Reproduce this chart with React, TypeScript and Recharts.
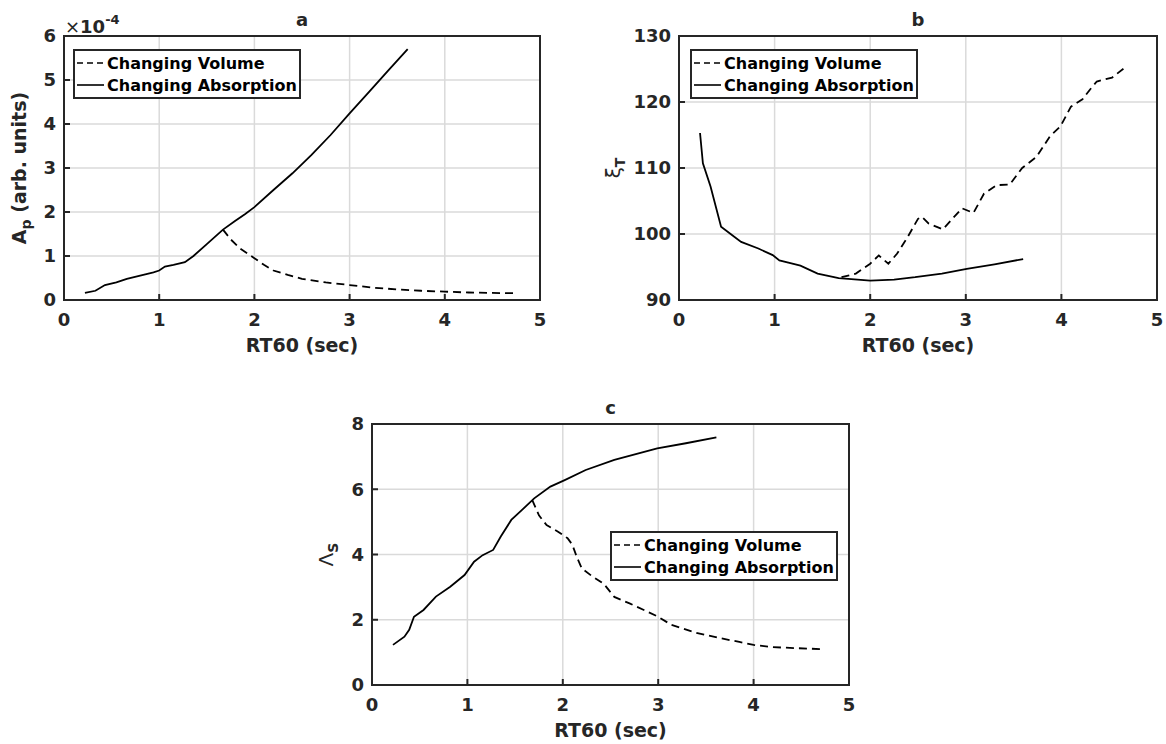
import React from "react";
import {
  LineChart,
  Line,
  XAxis,
  YAxis,
  CartesianGrid,
  Legend,
} from "recharts";

const FONT = "'DejaVu Sans', sans-serif";
const INK = "#262626";

// RT60 axis, shared by the three panels
const rtTicks = [0, 1, 2, 3, 4, 5];

// panel a: A_p, in units of 1e-4
const apTicks = [0, 1, 2, 3, 4, 5, 6];
const apAbsRt = [0.22, 0.33, 0.43, 0.55, 0.66, 0.8, 0.94, 1.0, 1.06, 1.15, 1.27, 1.36, 1.5, 1.67, 1.8, 1.9, 2.0, 2.2, 2.4, 2.6, 2.8, 3.0, 3.2, 3.4, 3.61];
const apAbsVal = [0.16, 0.21, 0.34, 0.4, 0.48, 0.555, 0.63, 0.67, 0.76, 0.8, 0.86, 1.0, 1.27, 1.6, 1.8, 1.95, 2.11, 2.5, 2.88, 3.3, 3.75, 4.24, 4.72, 5.2, 5.7];
const apVolRt = [1.67, 1.75, 1.85, 2.0, 2.1, 2.2, 2.35, 2.5, 2.75, 3.0, 3.25, 3.5, 3.75, 4.0, 4.25, 4.5, 4.75];
const apVolVal = [1.6, 1.38, 1.17, 0.95, 0.8, 0.67, 0.57, 0.48, 0.4, 0.34, 0.28, 0.24, 0.21, 0.19, 0.17, 0.16, 0.155];

// panel b: xi_T
const xiTicks = [90, 100, 110, 120, 130];
const xiAbsRt = [0.22, 0.25, 0.33, 0.44, 0.54, 0.65, 0.83, 0.98, 1.05, 1.27, 1.45, 1.67, 2.0, 2.25, 2.47, 2.75, 3.01, 3.3, 3.6];
const xiAbsVal = [115.3, 110.7, 107.2, 101.1, 100.0, 98.8, 97.8, 96.8, 96.0, 95.2, 94.0, 93.3, 92.95, 93.1, 93.45, 94.0, 94.7, 95.4, 96.2];
const xiVolRt = [1.7, 1.85, 2.0, 2.09, 2.19, 2.28, 2.39, 2.5, 2.54, 2.61, 2.76, 2.86, 2.96, 3.08, 3.19, 3.32, 3.46, 3.59, 3.74, 3.88, 3.99, 4.1, 4.22, 4.3, 4.37, 4.53, 4.68];
const xiVolVal = [93.45, 94.0, 95.5, 96.75, 95.5, 97.0, 99.5, 102.3, 102.6, 101.6, 100.7, 102.3, 103.9, 103.2, 106.1, 107.4, 107.5, 110.0, 111.7, 114.8, 116.3, 119.3, 120.4, 121.9, 123.1, 123.7, 125.4];

// panel c: Lambda_S
const lamTicks = [0, 2, 4, 6, 8];
const lamAbsRt = [0.22, 0.34, 0.39, 0.44, 0.54, 0.67, 0.82, 0.97, 1.07, 1.16, 1.27, 1.35, 1.46, 1.57, 1.7, 1.87, 2.02, 2.24, 2.54, 2.99, 3.29, 3.61];
const lamAbsVal = [1.23, 1.48, 1.69, 2.09, 2.3, 2.71, 3.01, 3.37, 3.78, 3.98, 4.14, 4.55, 5.06, 5.36, 5.72, 6.08, 6.28, 6.59, 6.9, 7.25, 7.41, 7.59];
const lamVolRt = [1.68, 1.75, 1.83, 1.95, 2.05, 2.1, 2.15, 2.2, 2.3, 2.43, 2.54, 2.7, 2.85, 3.0, 3.14, 3.4, 3.66, 3.85, 4.0, 4.2, 4.45, 4.71];
const lamVolVal = [5.67, 5.2, 4.9, 4.7, 4.5, 4.3, 3.9, 3.57, 3.35, 3.1, 2.7, 2.5, 2.3, 2.09, 1.84, 1.6, 1.43, 1.32, 1.23, 1.16, 1.13, 1.1];

const legendItems = [
  { name: "Changing Volume", dash: "6 4" },
  { name: "Changing Absorption", dash: undefined },
];

type Pt = { x: number; y: number };
type Box = { x: number; y: number; width: number; height: number };

const zip = (xs: number[], ys: number[]): Pt[] => xs.map((x, i) => ({ x, y: ys[i] }));

const tickStyle = { fontSize: 18, fontWeight: 700, fill: INK, fontFamily: FONT };
// mirrored axes keep their tick marks but show no numbers
const hiddenTick = { fontSize: 1, fill: "transparent" };
const frame = { stroke: INK, strokeWidth: 2, strokeLinecap: "square" as const };
const tickLine = { stroke: INK, strokeWidth: 2 };

const LegendBox = () => (
  <div
    style={{
      width: 228,
      boxSizing: "border-box",
      border: `2px solid ${INK}`,
      background: "#fff",
      padding: "1px 0 1px 1px",
      fontFamily: FONT,
      fontWeight: 700,
      fontSize: 16,
      color: "#000",
    }}
  >
    {legendItems.map((it) => (
      <div key={it.name} style={{ display: "flex", alignItems: "center", height: 22 }}>
        <svg width={29} height={10}>
          <line x1={1} y1={5} x2={28} y2={5} stroke="#000" strokeWidth={1.6} strokeDasharray={it.dash} />
        </svg>
        <span style={{ marginLeft: 2, whiteSpace: "nowrap" }}>{it.name}</span>
      </div>
    ))}
  </div>
);

const rotated = (cx: number, cy: number, children: React.ReactNode) => (
  <text
    x={cx}
    y={cy}
    transform={`rotate(-90 ${cx} ${cy})`}
    textAnchor="middle"
    fill={INK}
    fontFamily={FONT}
    fontSize={19}
  >
    {children}
  </text>
);

const apLabel = (vb: Box) => (
  <g>
    {rotated(vb.x + 26, vb.y + vb.height / 2, (
      <>
        <tspan fontWeight={700}>A</tspan>
        <tspan fontWeight={700} fontSize={14} dy={5}>p</tspan>
        <tspan fontWeight={700} dy={-5}> (arb. units)</tspan>
      </>
    ))}
    <text x={vb.x + 65} y={vb.y - 3} fill={INK} fontFamily={FONT} fontSize={18} fontWeight={700}>
      <tspan fontWeight={400}>×</tspan>10
      <tspan dy={-9} fontSize={13}>-4</tspan>
    </text>
  </g>
);

const xiLabel = (vb: Box) =>
  rotated(vb.x + 30, vb.y + vb.height / 2, (
    <>
      <tspan fontSize={20}>ξ</tspan>
      <tspan fontWeight={700} fontSize={14} dy={5}>T</tspan>
    </>
  ));

const lamLabel = (vb: Box) =>
  rotated(vb.x + 33, vb.y + vb.height / 2, (
    <>
      <tspan fontSize={20}>Λ</tspan>
      <tspan fontWeight={700} fontSize={14} dy={5}>S</tspan>
    </>
  ));

type PanelProps = {
  left: number;
  top: number;
  width: number;
  height: number;
  margin: { top: number; right: number; bottom: number; left: number };
  yWidth: number;
  xHeight: number;
  yTicks: number[];
  absorption: Pt[];
  volume: Pt[];
  title: string;
  yLabel: (vb: Box) => React.ReactNode;
  legendAt: { left: number; top: number };
};

const Panel = (p: PanelProps) => {
  const yDomain = [p.yTicks[0], p.yTicks[p.yTicks.length - 1]];
  return (
    <div style={{ position: "absolute", left: p.left, top: p.top }}>
      <LineChart width={p.width} height={p.height} margin={p.margin} style={{ fontFamily: FONT }}>
        <CartesianGrid stroke="#dadada" strokeWidth={1.5} />
        <XAxis
          type="number"
          dataKey="x"
          domain={[0, 5]}
          ticks={rtTicks}
          interval={0}
          height={p.xHeight}
          tick={tickStyle}
          tickSize={-6}
          tickMargin={19}
          axisLine={frame}
          tickLine={tickLine}
          label={(lp: any) => (
            <text
              x={lp.viewBox.x + lp.viewBox.width / 2}
              y={lp.viewBox.y + 52}
              textAnchor="middle"
              fill={INK}
              fontFamily={FONT}
              fontSize={19}
              fontWeight={700}
            >
              RT60 (sec)
            </text>
          )}
        />
        <XAxis
          xAxisId="top"
          orientation="top"
          type="number"
          dataKey="x"
          domain={[0, 5]}
          ticks={rtTicks}
          interval={0}
          height={1}
          tick={hiddenTick}
          tickSize={-6}
          axisLine={frame}
          tickLine={tickLine}
          label={(lp: any) => (
            <text
              x={lp.viewBox.x + lp.viewBox.width / 2}
              y={lp.viewBox.y - 9}
              textAnchor="middle"
              fill={INK}
              fontFamily={FONT}
              fontSize={18}
              fontWeight={700}
            >
              {p.title}
            </text>
          )}
        />
        <YAxis
          type="number"
          domain={yDomain}
          ticks={p.yTicks}
          interval={0}
          width={p.yWidth}
          tick={tickStyle}
          tickSize={-6}
          tickMargin={14}
          axisLine={frame}
          tickLine={tickLine}
          label={(lp: any) => p.yLabel(lp.viewBox)}
        />
        <YAxis
          yAxisId="right"
          orientation="right"
          type="number"
          domain={yDomain}
          ticks={p.yTicks}
          interval={0}
          width={1}
          tick={hiddenTick}
          tickSize={-6}
          axisLine={frame}
          tickLine={tickLine}
        />
        <Legend
          layout="vertical"
          align="center"
          verticalAlign="middle"
          wrapperStyle={{ left: p.legendAt.left, top: p.legendAt.top, width: "auto", height: "auto" }}
          content={() => <LegendBox />}
        />
        <Line
          data={p.volume}
          dataKey="y"
          name="Changing Volume"
          type="linear"
          stroke="#000"
          strokeWidth={1.8}
          strokeDasharray="8 5"
          dot={false}
          activeDot={false}
          isAnimationActive={false}
        />
        <Line
          data={p.absorption}
          dataKey="y"
          name="Changing Absorption"
          type="linear"
          stroke="#000"
          strokeWidth={1.8}
          dot={false}
          activeDot={false}
          isAnimationActive={false}
        />
      </LineChart>
    </div>
  );
};

export default function App() {
  return (
    <div style={{ position: "absolute", left: 0, top: 0, width: 1166, height: 744, background: "#fff", overflow: "hidden" }}>
      <Panel
        left={0}
        top={0}
        width={560}
        height={360}
        margin={{ top: 35, right: 19, bottom: 0, left: 0 }}
        yWidth={64}
        xHeight={60}
        yTicks={apTicks}
        absorption={zip(apAbsRt, apAbsVal)}
        volume={zip(apVolRt, apVolVal)}
        title="a"
        yLabel={apLabel}
        legendAt={{ left: 73, top: 49 }}
      />
      <Panel
        left={590}
        top={0}
        width={576}
        height={360}
        margin={{ top: 35, right: 8, bottom: 0, left: 0 }}
        yWidth={89}
        xHeight={60}
        yTicks={xiTicks}
        absorption={zip(xiAbsRt, xiAbsVal)}
        volume={zip(xiVolRt, xiVolVal)}
        title="b"
        yLabel={xiLabel}
        legendAt={{ left: 100, top: 49 }}
      />
      <Panel
        left={300}
        top={380}
        width={560}
        height={364}
        margin={{ top: 43, right: 10, bottom: 0, left: 0 }}
        yWidth={72}
        xHeight={59}
        yTicks={lamTicks}
        absorption={zip(lamAbsRt, lamAbsVal)}
        volume={zip(lamVolRt, lamVolVal)}
        title="c"
        yLabel={lamLabel}
        legendAt={{ left: 310, top: 151 }}
      />
    </div>
  );
}
